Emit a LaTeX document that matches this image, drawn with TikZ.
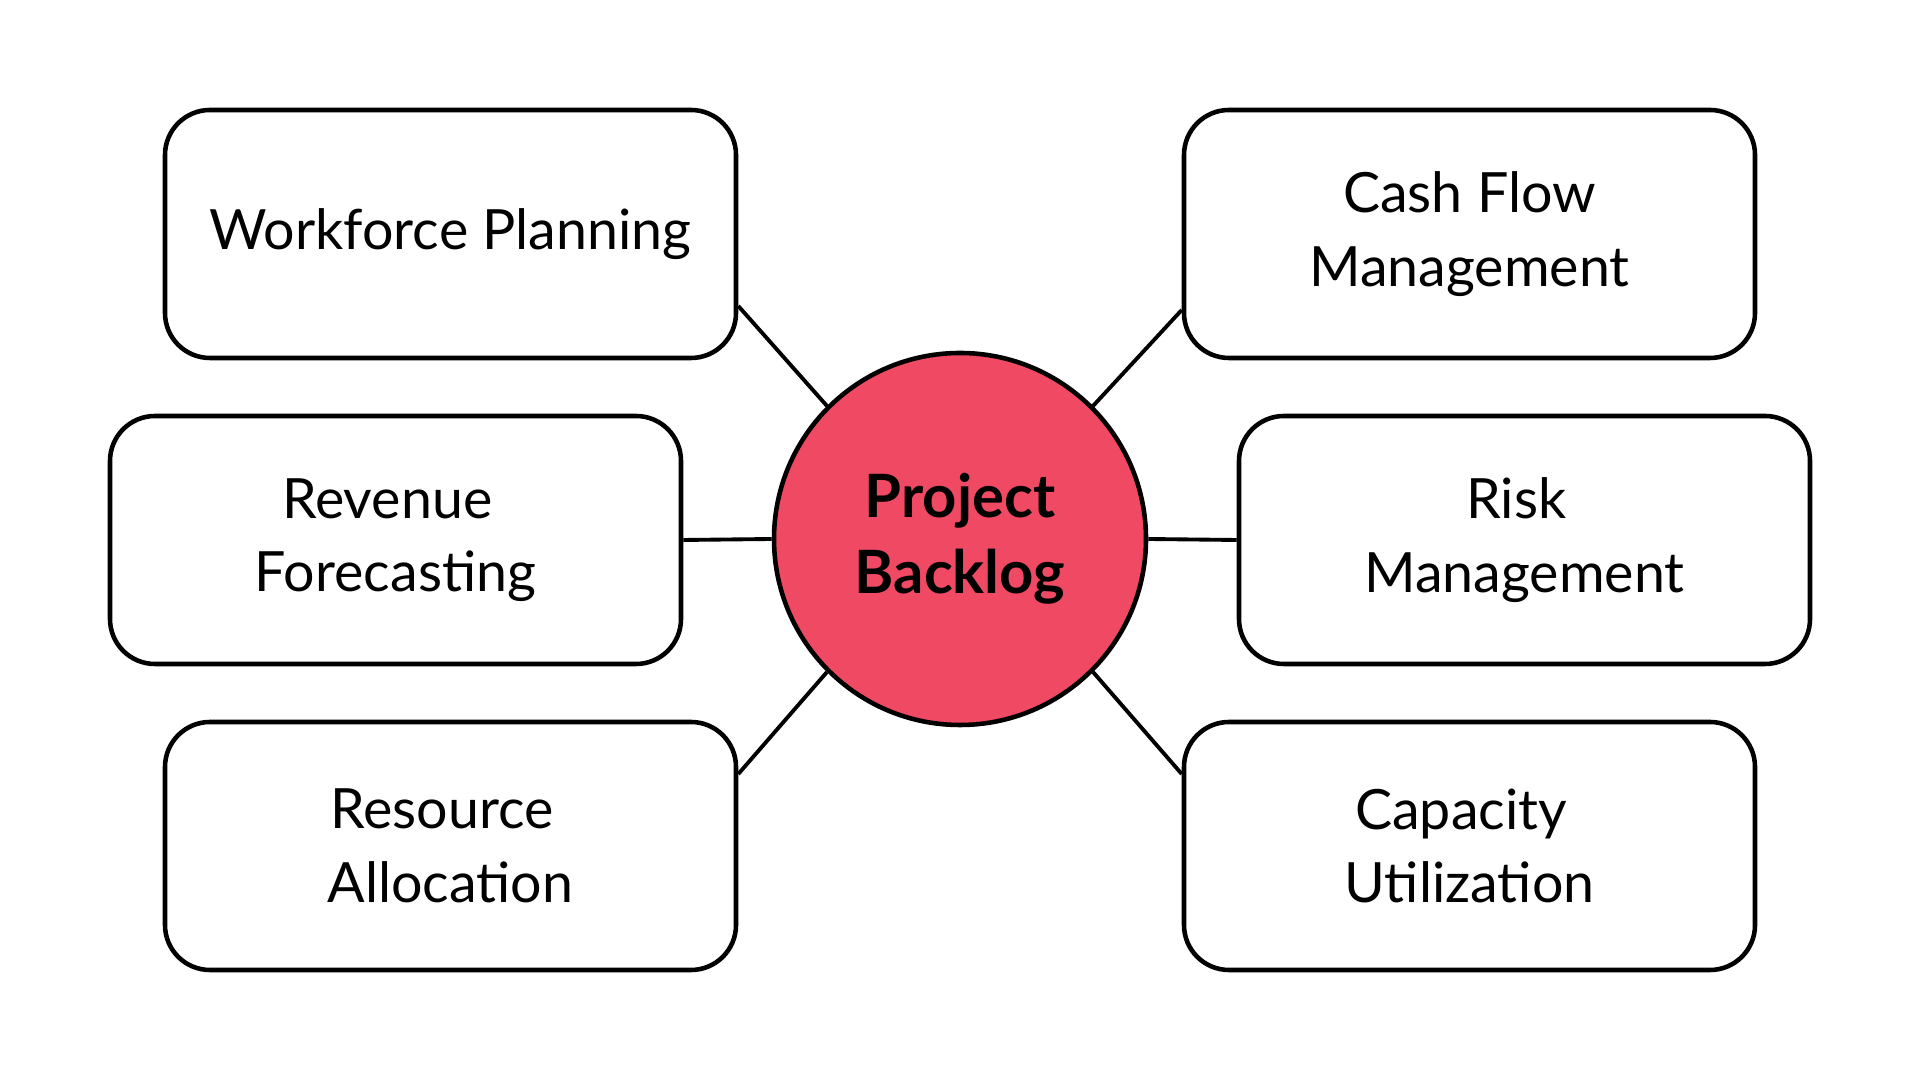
\documentclass[tikz,border=0pt]{standalone}
\usepackage{fontspec}
\setmainfont{Lato}
\usepackage{tikz}
\usetikzlibrary{positioning}
\definecolor{backlogred}{HTML}{EF4963}

\begin{document}
\begin{tikzpicture}[
    topic/.style={draw, line width=1.3pt, rounded corners=0.45cm, minimum width=5.71cm,
      minimum height=2.48cm, align=center, font=\fontsize{15.8}{20.9}\selectfont},
    hub/.style={draw, circle, line width=1.3pt, fill=backlogred, minimum size=3.72cm,
      align=center, font=\fontsize{17}{21.6}\selectfont\bfseries},
    link/.style={line width=1.1pt}
  ]
      \useasboundingbox (0, 0) rectangle (19.2, 10.8);

      \node [hub] (pb) at (9.6, 5.41) {Project\\Backlog};

      \node [topic] (wf) at (4.505, 8.46) {Workforce Planning};
      \node [topic] (rf) at (3.955, 5.40) {Revenue\kern.3em\\Forecasting};
      \node [topic] (ra) at (4.505, 2.34) {Resource\kern.3em\\Allocation};
      \node [topic] (cf) at (14.695, 8.46) {Cash Flow\\Management};
      \node [topic] (rm) at (15.245, 5.40) {Risk\kern.3em\\Management};
      \node [topic] (cu) at (14.695, 2.34) {Capacity\kern.3em\\Utilization};

      \draw [link] (pb.135) -- ([yshift=-0.72cm] wf.east);
      \draw [link] (pb.west) -- (rf.east);
      \draw [link] (pb.225) -- ([yshift=0.72cm] ra.east);
      \draw [link] (pb.45) -- ([yshift=-0.76cm] cf.west);
      \draw [link] (pb.east) -- (rm.west);
      \draw [link] (pb.315) -- ([yshift=0.72cm] cu.west);
    \end{tikzpicture}
\end{document}
